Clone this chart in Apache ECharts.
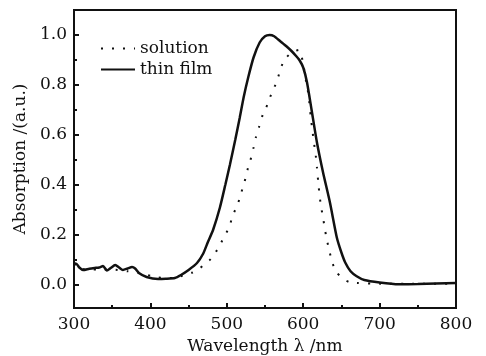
<!DOCTYPE html>
<html>
<head>
<meta charset="utf-8">
<script src="https://cdn.jsdelivr.net/npm/echarts@6/dist/echarts.min.js"></script>
<style>
  html, body { margin: 0; padding: 0; background: #fff; }
  #chart { width: 486px; height: 356px; }
</style>
</head>
<body>
<div id="chart"></div>
<script>
// 吸收光谱：溶液 vs 薄膜
const solutionWl = [300, 310, 330, 350, 370, 390, 410, 430, 445, 455, 465, 479, 489, 496, 503, 508, 514, 519, 523, 527, 531, 535, 538, 542, 547, 553, 559, 565, 570, 575, 585, 594, 599, 604, 607, 610, 612, 614, 616, 618, 620, 623, 626, 628, 631, 634, 638, 644, 652, 660, 670, 700, 750, 800];
const solutionAbs = [0.09, 0.065, 0.062, 0.062, 0.055, 0.045, 0.03, 0.028, 0.04, 0.05, 0.068, 0.104, 0.148, 0.19, 0.23, 0.28, 0.32, 0.37, 0.41, 0.46, 0.5, 0.55, 0.59, 0.63, 0.68, 0.72, 0.77, 0.81, 0.86, 0.9, 0.93, 0.94, 0.9, 0.81, 0.76, 0.67, 0.62, 0.57, 0.53, 0.47, 0.4, 0.32, 0.27, 0.23, 0.18, 0.14, 0.09, 0.05, 0.025, 0.012, 0.008, 0.005, 0.005, 0.005];

const filmWl = [300, 303, 307, 312, 320, 327, 333, 338, 343, 348, 354, 359, 364, 370, 376, 380, 385, 395, 410, 420, 432, 440, 450, 461, 469, 475, 482, 491, 498, 504, 511, 517, 522, 528, 535, 543, 550, 556, 562, 570, 578, 585, 591, 595, 600, 605, 611, 618, 626, 635, 644, 650, 655, 662, 670, 680, 700, 725, 750, 800];
const filmAbs = [0.08, 0.085, 0.07, 0.06, 0.065, 0.068, 0.07, 0.076, 0.058, 0.068, 0.08, 0.07, 0.06, 0.066, 0.072, 0.066, 0.048, 0.032, 0.024, 0.025, 0.028, 0.04, 0.06, 0.088, 0.125, 0.17, 0.22, 0.31, 0.4, 0.48, 0.58, 0.67, 0.75, 0.83, 0.91, 0.97, 0.995, 1.0, 0.995, 0.975, 0.955, 0.935, 0.915, 0.9, 0.87, 0.81, 0.7, 0.57, 0.45, 0.33, 0.19, 0.13, 0.09, 0.055, 0.035, 0.02, 0.01, 0.003, 0.004, 0.008];

const yMajor = [0, 0.2, 0.4, 0.6, 0.8, 1.0];
const yMinor = [0.1, 0.3, 0.5, 0.7, 0.9];

const FONT = "'DejaVu Serif', 'Liberation Serif', serif";
const FS = 17;
const zip = (xs, ys) => xs.map((x, i) => [x, ys[i]]);

const chart = echarts.init(document.getElementById('chart'));
chart.setOption({
  animation: false,
  backgroundColor: '#fff',
  textStyle: { fontFamily: FONT, color: '#111' },
  grid: {
    left: 74, right: 30, top: 10, bottom: 48,
    outerBoundsMode: 'none',
    show: true, borderColor: '#111', borderWidth: 2
  },
  legend: {
    left: 95, top: 35,
    orient: 'vertical',
    itemWidth: 34, itemHeight: 14, itemGap: 4,
    itemStyle: { opacity: 0 },
    textStyle: { fontFamily: FONT, fontSize: FS, color: '#111' },
    data: ['solution', 'thin film']
  },
  xAxis: {
    type: 'value', min: 300, max: 800, interval: 100,
    name: 'Wavelength λ /nm', nameLocation: 'middle', nameGap: 28,
    nameTextStyle: { fontFamily: FONT, fontSize: FS, color: '#111' },
    axisLine: { show: true, onZero: false, lineStyle: { color: '#111', width: 2 } },
    axisTick: { inside: true, length: 5, lineStyle: { color: '#111', width: 2 } },
    minorTick: { show: true, splitNumber: 2, length: 3, lineStyle: { color: '#111', width: 2 } },
    axisLabel: { margin: 8, fontFamily: FONT, fontSize: FS, color: '#111' },
    splitLine: { show: false }
  },
  yAxis: [
    {
      type: 'value', min: -0.092, max: 1.1,
      name: 'Absorption /(a.u.)', nameLocation: 'middle', nameGap: 42,
      nameTextStyle: { fontFamily: FONT, fontSize: FS, color: '#111' },
      axisLine: { show: true, lineStyle: { color: '#111', width: 2 } },
      axisTick: { inside: true, length: 5, customValues: yMajor, lineStyle: { color: '#111', width: 2 } },
      axisLabel: {
        margin: 7, fontFamily: FONT, fontSize: FS, color: '#111',
        customValues: yMajor, formatter: v => v.toFixed(1)
      },
      splitLine: { show: false }
    },
    {
      type: 'value', min: -0.092, max: 1.1, position: 'left',
      axisLine: { show: false },
      axisTick: { show: true, inside: true, length: 3, customValues: yMinor, lineStyle: { color: '#111', width: 2 } },
      axisLabel: { show: false },
      splitLine: { show: false }
    }
  ],
  series: [
    {
      name: 'solution', type: 'line', yAxisIndex: 0,
      data: zip(solutionWl, solutionAbs),
      showSymbol: false, symbol: 'none', smooth: 0.2,
      lineStyle: { color: '#111', width: 2, type: [2, 9], cap: 'butt' },
      itemStyle: { color: '#111' }
    },
    {
      name: 'thin film', type: 'line', yAxisIndex: 0,
      data: zip(filmWl, filmAbs),
      showSymbol: false, symbol: 'none', smooth: 0.2,
      lineStyle: { color: '#111', width: 2.5 },
      itemStyle: { color: '#111' }
    }
  ]
});
</script>
</body>
</html>
